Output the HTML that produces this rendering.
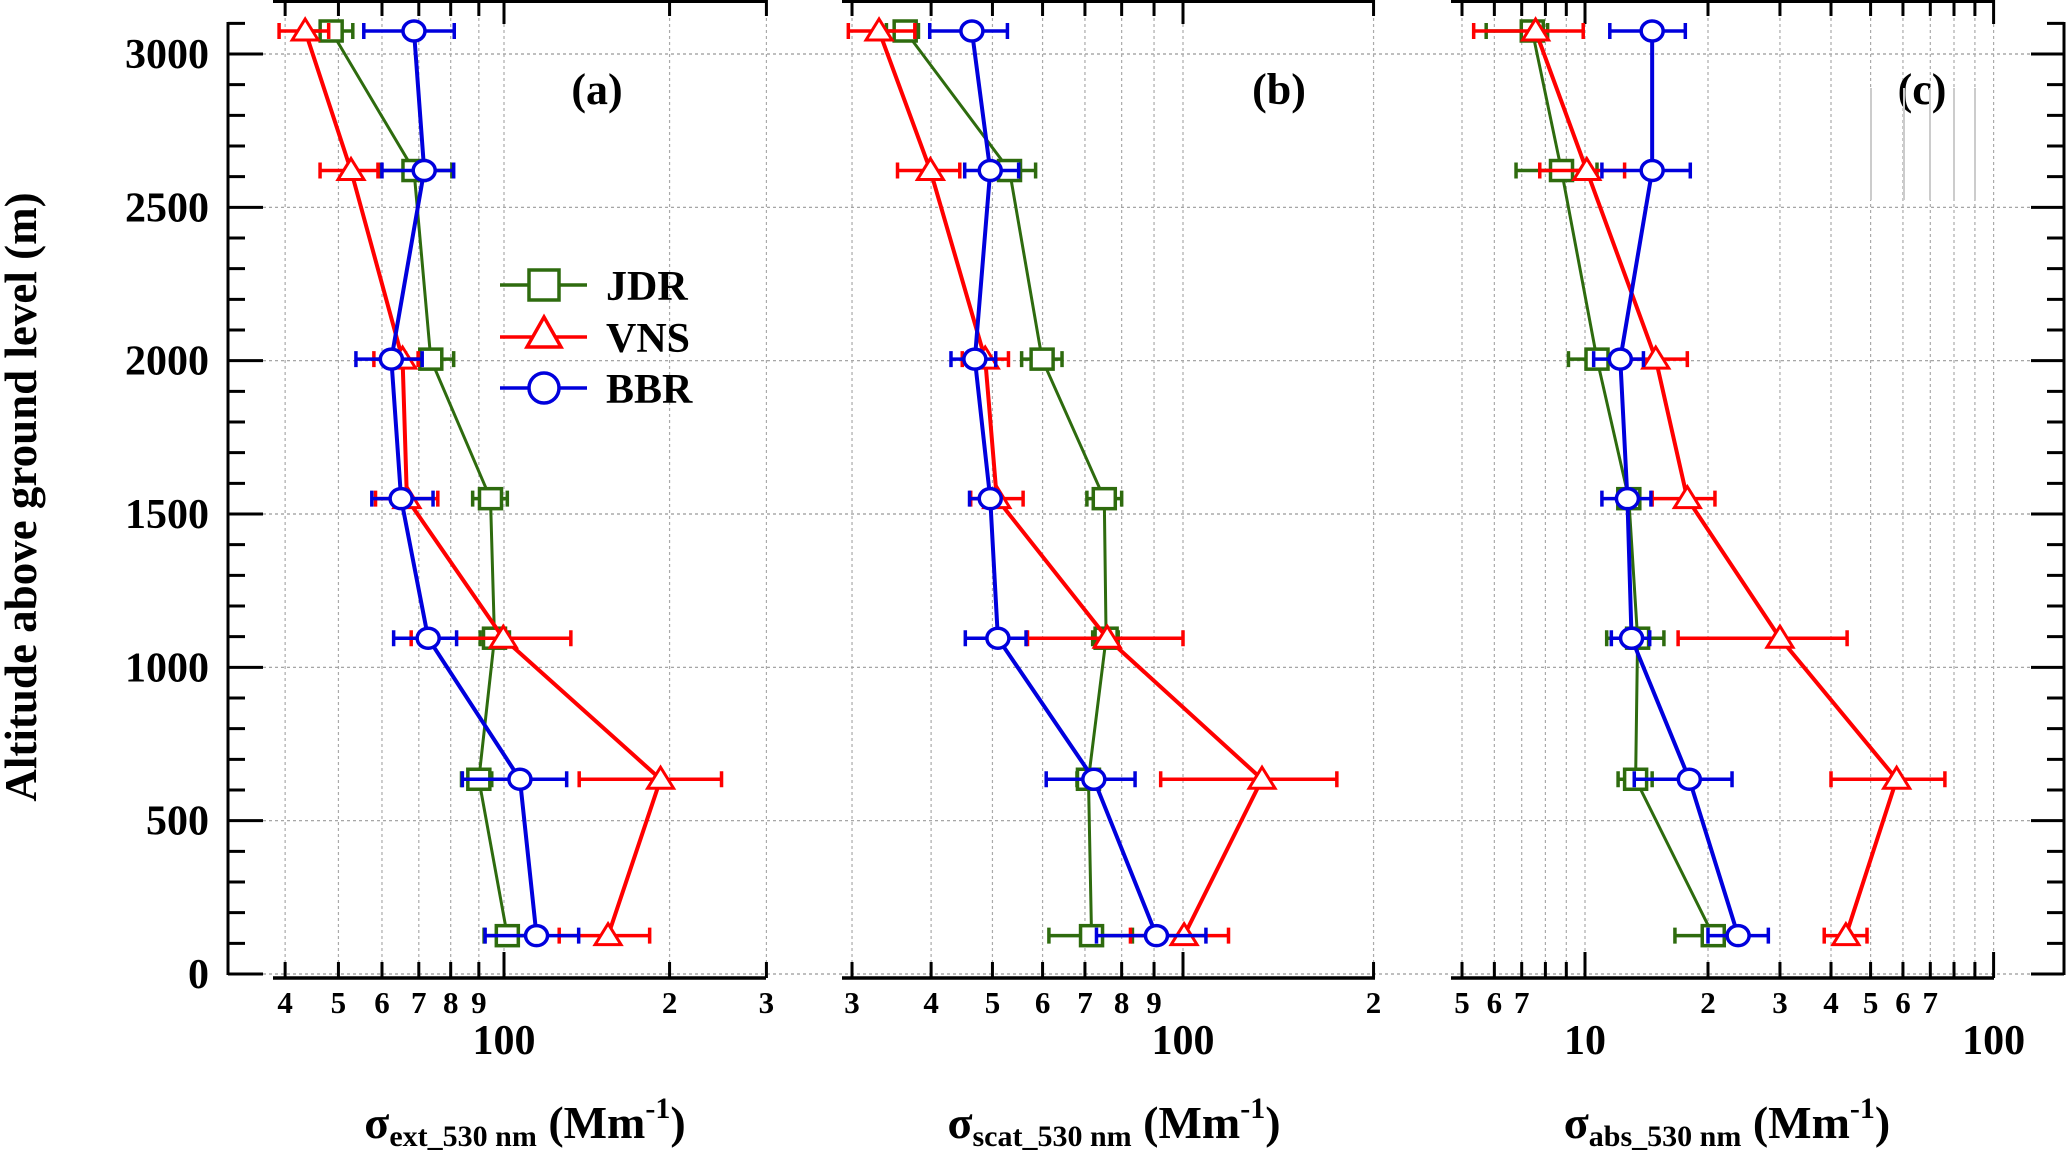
<!DOCTYPE html>
<html><head><meta charset="utf-8"><style>
html,body{margin:0;padding:0;background:#fff;}
svg{display:block;font-family:"Liberation Serif",serif;font-weight:bold;}
</style></head><body>
<svg id="chart" width="2067" height="1155" viewBox="0 0 2067 1155" xmlns="http://www.w3.org/2000/svg"></svg>
<script>
// ---- data ----
const altitudes = [3075, 2620, 2005, 1550, 1095, 635, 125];
const seriesNames = ["JDR", "VNS", "BBR"];
// panel a: extinction
const extJDR = [48.5, 68.6, 73.6, 94.5, 96.1, 90, 101.4];
const extJDRLo = [43.4, 59.3, 66.2, 87.7, 90.5, 83.7, 92];
const extJDRHi = [53.1, 80.4, 81, 101.4, 102.3, 95, 112];
const extVNS = [43.5, 52.7, 65.4, 66.6, 99.7, 192.6, 154.6];
const extVNSLo = [39, 46.3, 58, 58.4, 67.8, 137, 126];
const extVNSHi = [48, 59, 69.8, 75.8, 132.3, 248.6, 184];
const extBBR = [68.6, 71.6, 62.4, 65, 72.8, 106.9, 114.6];
const extBBRLo = [55.6, 60, 53.8, 57.5, 63, 84, 92.4];
const extBBRHi = [81.2, 81, 71, 74.3, 82, 130, 136.7];
// panel b: scattering
const scatJDR = [36.4, 53.2, 59.9, 75.1, 75.6, 70.9, 71.7];
const scatJDRLo = [34, 49, 55.6, 70.5, 72, 68, 61.4];
const scatJDRHi = [38.2, 58.5, 64.4, 80, 79, 74, 83.2];
const scatVNS = [33.1, 39.9, 48.7, 50.8, 75.9, 133.3, 100.4];
const scatVNSLo = [29.6, 35.4, 44.8, 46.2, 56.8, 92.2, 82.6];
const scatVNSHi = [37.7, 44.4, 53, 55.9, 100, 175, 118];
const scatBBR = [46.4, 49.6, 46.9, 49.6, 51, 72.3, 90.8];
const scatBBRLo = [39.8, 45.2, 43, 46, 45.3, 60.8, 73];
const scatBBRHi = [52.8, 55, 50.6, 51, 56.5, 84, 108.7];
// panel c: absorption
const absJDR = [7.43, 8.76, 10.7, 12.8, 13.45, 13.3, 20.6];
const absJDRLo = [5.73, 6.78, 9.11, 12.3, 11.3, 12.05, 16.6];
const absJDRHi = [8.1, 10.7, 11.2, 13.3, 15.6, 14.6, 24.5];
const absVNS = [7.57, 10.1, 14.9, 17.8, 30, 57.9, 43.5];
const absVNSLo = [5.34, 7.75, 12.5, 14.6, 16.9, 40, 38.5];
const absVNSHi = [9.9, 12.5, 17.8, 20.8, 43.8, 76, 49];
const absBBR = [14.6, 14.6, 12.2, 12.7, 13.0, 18.0, 23.7];
const absBBRLo = [11.5, 11.0, 10.5, 11, 11.6, 13.2, 20];
const absBBRHi = [17.6, 18.1, 13.9, 14.5, 14.4, 22.9, 28.1];
const yTicks = [0, 500, 1000, 1500, 2000, 2500, 3000];
const ticksA = [40,50,60,70,80,90,100,200,300];
const labelsA = ["4","5","6","7","8","9","100","2","3"];
const ticksB = [30,40,50,60,70,80,90,100,200];
const labelsB = ["3","4","5","6","7","8","9","100","2"];
const ticksC = [5,6,7,8,9,10,20,30,40,50,60,70,80,90,100];
const labelsC = ["5","6","7","","","10","2","3","4","5","6","7","","","100"];

const svg = document.getElementById('chart');
const NS = 'http://www.w3.org/2000/svg';
function mk(tag, attrs, parent){
  const e = document.createElementNS(NS, tag);
  for (const k in attrs) e.setAttribute(k, attrs[k]);
  (parent||svg).appendChild(e);
  return e;
}
const Y0 = 974, YPX = 920/3000;
function yS(a){ return Y0 - a*YPX; }
const colors = {JDR:'#2e6b0e', VNS:'#ff0000', BBR:'#0000dd'};

// horizontal grid
yTicks.forEach(t=>{
  const l = mk('line',{x1:263,x2:2031,y1:yS(t),y2:yS(t),stroke:'#999','stroke-width':1.2,'stroke-dasharray':'3,3'});
  
  
});

// left y axis
let ax = mk('line',{x1:228,x2:228,y1:22,y2:975,stroke:'#000','stroke-width':3});


for(let a=0;a<=3100;a+=100){
  const major = a%500===0;
  const t = mk('line',{x1:228,x2:major?263:245,y1:yS(a),y2:yS(a),stroke:'#000','stroke-width':3});
  
  
  const t2 = mk('line',{x1:2064,x2:major?2031:2047,y1:yS(a),y2:yS(a),stroke:'#000','stroke-width':3});
  
  
}
ax = mk('line',{x1:2064,x2:2064,y1:22,y2:975,stroke:'#000','stroke-width':3});


yTicks.forEach(t=>{
  const tx = mk('text',{x:209,y:yS(t)+14,'text-anchor':'end','font-size':42});
  tx.textContent = t;
  
  
});
let yt = mk('text',{x:0,y:0,'text-anchor':'middle','font-size':45,transform:'translate(36,497) rotate(-90)'});
yt.textContent = 'Altitude above ground level (m)';



// panels
const panels = [
  {id:'a', x0:273, x1:766, ref:100, px100:504, dec:550, ticks:ticksA, labels:labelsA, majors:[100], label:'(a)', lx:597, sub:'ext_530 nm', tx:525,
   data:{JDR:[extJDR,extJDRLo,extJDRHi],VNS:[extVNS,extVNSLo,extVNSHi],BBR:[extBBR,extBBRLo,extBBRHi]}},
  {id:'b', x0:842, x1:1375, ref:100, px100:1183, dec:633, ticks:ticksB, labels:labelsB, majors:[100], label:'(b)', lx:1279, sub:'scat_530 nm', tx:1114,
   data:{JDR:[scatJDR,scatJDRLo,scatJDRHi],VNS:[scatVNS,scatVNSLo,scatVNSHi],BBR:[scatBBR,scatBBRLo,scatBBRHi]}},
  {id:'c', x0:1451, x1:1994, ref:10, px100:1585, dec:408.6, ticks:ticksC, labels:labelsC, majors:[10,100], label:'(c)', lx:1922, sub:'abs_530 nm', tx:1727,
   data:{JDR:[absJDR,absJDRLo,absJDRHi],VNS:[absVNS,absVNSLo,absVNSHi],BBR:[absBBR,absBBRLo,absBBRHi]}}
];

panels.forEach(p=>{
  const g = mk('g',{});
  
  
  const xS = v => p.px100 + p.dec*Math.log10(v/p.ref);
  p.ticks.forEach((t,i)=>{
    const x = xS(t);
    const gl = mk('line',{x1:x,x2:x,y1:0,y2:978,stroke:'#aaa','stroke-width':1.2,'stroke-dasharray':'3,3'},g);
    
    
    const major = p.majors.includes(t);
    const tb = mk('line',{x1:x,x2:x,y1:978,y2:major?952:962,stroke:'#000','stroke-width':3},g);
    
    
    const tt = mk('line',{x1:x,x2:x,y1:0,y2:major?24:16,stroke:'#000','stroke-width':3},g);
    
    
    if(p.labels[i]!==''){
      const big = major;
      const tl = mk('text',{x:x,y:big?1054:1013,'text-anchor':'middle','font-size':big?42:31},g);
      tl.textContent = p.labels[i];
      
      
    }
  });
  const xb = mk('line',{x1:p.x0,x2:p.x1,y1:978,y2:978,stroke:'#000','stroke-width':3.5},g);
  
  
  const xt = mk('line',{x1:p.x0,x2:p.x1,y1:1.5,y2:1.5,stroke:'#000','stroke-width':3},g);
  
  
  const pl = mk('text',{x:p.lx,y:104,'text-anchor':'middle','font-size':44},g);
  pl.textContent = p.label;
  
  
  const ti = mk('text',{x:p.tx,y:1138,'text-anchor':'middle','font-size':46},g);
  
  
  ti.innerHTML = 'σ<tspan font-size="30" dy="8">'+p.sub+'</tspan><tspan dy="-8"> (Mm</tspan><tspan font-size="30" dy="-20">-1</tspan><tspan dy="20">)</tspan>';
  seriesNames.forEach(s=>{
    const [vals,lo,hi] = p.data[s];
    const c = colors[s];
    const sg = mk('g',{},g);
    
    
    vals.forEach((v,i)=>{
      const y = yS(altitudes[i]);
      const e = mk('path',{d:`M${xS(lo[i])},${y}H${xS(hi[i])}M${xS(lo[i])},${y-8}V${y+8}M${xS(hi[i])},${y-8}V${y+8}`,stroke:c,'stroke-width':3.5,fill:'none'},sg);
      
      
    });
    const pts = vals.map((v,i)=>xS(v)+','+yS(altitudes[i])).join(' ');
    const ln = mk('polyline',{points:pts,fill:'none',stroke:c,'stroke-width':s==='JDR'?3:4},sg);
    
    
    vals.forEach((v,i)=>{
      const x = xS(v), y = yS(altitudes[i]);
      let m;
      if(s==='JDR') m = mk('rect',{x:x-11,y:y-10,width:22,height:20,fill:'#fff',stroke:c,'stroke-width':3.5},sg);
      else if(s==='VNS') m = mk('path',{d:`M${x},${y-12}L${x+13},${y+9}L${x-13},${y+9}Z`,fill:'#fff',stroke:c,'stroke-width':3},sg);
      else m = mk('ellipse',{cx:x,cy:y,rx:11,ry:10,fill:'#fff',stroke:c,'stroke-width':3.5},sg);
      
      
    });
  });
});

[1871,1904,1930,1954,1975].forEach(x=>{
  const l = mk('line',{x1:x,x2:x,y1:88,y2:200,stroke:'#ccc','stroke-width':2});
  
  
});

// legend
const lg = mk('g',{});


const legYs = [285, 337, 388];
seriesNames.forEach((s,i)=>{
  const y = legYs[i], c = colors[s];
  const eg = mk('g',{},lg);
  
  
  mk('line',{x1:500,x2:587,y1:y,y2:y,stroke:c,'stroke-width':3.5},eg);
  if(s==='JDR') mk('rect',{x:529,y:y-15,width:30,height:30,fill:'#fff',stroke:c,'stroke-width':3.5},eg);
  else if(s==='VNS') mk('path',{d:`M544,${y-20}L561,${y+10}L527,${y+10}Z`,fill:'#fff',stroke:c,'stroke-width':3.5},eg);
  else mk('circle',{cx:544,cy:y,r:15,fill:'#fff',stroke:c,'stroke-width':3.5},eg);
  const t = mk('text',{x:606,y:y+15,'font-size':42},eg);
  t.textContent = s;
});
</script>
</body></html>
